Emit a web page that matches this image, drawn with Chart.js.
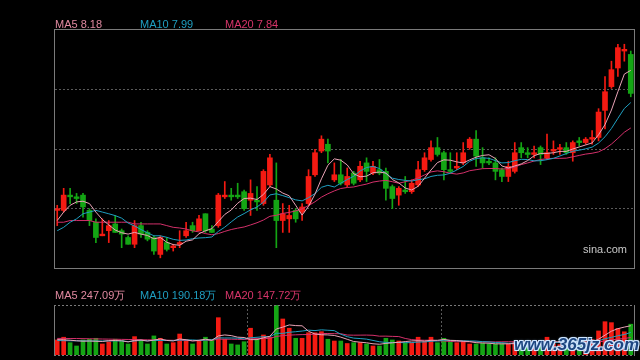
<!DOCTYPE html>
<html><head><meta charset="utf-8">
<script src="https://cdn.jsdelivr.net/npm/chart.js@4.4.1/dist/chart.umd.min.js"></script>
<style>
html,body{margin:0;padding:0;background:#000;width:640px;height:360px;overflow:hidden;}
#wrap{position:relative;width:640px;height:360px;background:#000;}
canvas{position:absolute;left:0;}
.lg{position:absolute;font-family:"Liberation Sans",Arial,sans-serif;font-size:11px;line-height:11px;white-space:nowrap;}
#wm{position:absolute;left:514px;top:336px;font-family:"Liberation Sans",Arial,sans-serif;font-style:italic;font-weight:bold;font-size:17px;line-height:17px;color:#1d4680;white-space:nowrap;
text-shadow:-1px -1px 0 #cfe6ff,1px -1px 0 #cfe6ff,-1px 1px 0 #cfe6ff,1px 1px 0 #cfe6ff,0 0 3px #9cc8f0;}
</style></head><body>
<div id="wrap">
<canvas id="main" width="640" height="280" style="top:0"></canvas>
<canvas id="vol" width="640" height="80" style="top:280px"></canvas>
<div class="lg" style="left:55px;top:19px;color:#e089a0">MA5 8.18</div>
<div class="lg" style="left:140px;top:19px;color:#1f9fc1">MA10 7.99</div>
<div class="lg" style="left:225px;top:19px;color:#d7356a">MA20 7.84</div>
<div class="lg" style="left:583px;top:244px;color:#c8c8c8">sina.com</div>
<div class="lg" style="left:55px;top:290px;color:#e089a0">MA5 247.09万</div>
<div class="lg" style="left:140px;top:290px;color:#1f9fc1">MA10 190.18万</div>
<div class="lg" style="left:225px;top:290px;color:#d7356a">MA20 147.72万</div>
<div id="wm">www.365jz.com</div>
</div>
<script>
// ---- data (price in yuan, volume in 万) ----
const opens = [7.35,7.35,7.44,7.43,7.44,7.35,7.28,7.20,7.23,7.27,
7.23,7.19,7.15,7.26,7.22,7.19,7.09,7.16,7.13,7.15,
7.20,7.26,7.23,7.33,7.24,7.26,7.43,7.44,7.44,7.46,
7.41,7.41,7.39,7.50,7.41,7.29,7.30,7.35,7.34,7.39,
7.56,7.70,7.74,7.53,7.56,7.50,7.57,7.53,7.63,7.57,
7.59,7.58,7.49,7.44,7.47,7.46,7.50,7.59,7.65,7.72,
7.69,7.59,7.60,7.63,7.72,7.77,7.66,7.64,7.63,7.59,
7.55,7.58,7.72,7.69,7.68,7.72,7.66,7.70,7.71,7.72,
7.69,7.76,7.75,7.77,7.78,7.94,8.08,8.19,8.29,8.27];
const closes = [7.36,7.44,7.43,7.42,7.37,7.29,7.19,7.21,7.26,7.22,
7.21,7.15,7.26,7.21,7.18,7.11,7.19,7.12,7.14,7.16,
7.23,7.23,7.30,7.23,7.22,7.44,7.44,7.43,7.43,7.36,
7.45,7.40,7.58,7.66,7.29,7.33,7.32,7.30,7.37,7.55,
7.69,7.77,7.70,7.56,7.51,7.55,7.51,7.61,7.58,7.61,
7.57,7.48,7.42,7.48,7.46,7.51,7.59,7.66,7.72,7.68,
7.59,7.58,7.61,7.69,7.77,7.67,7.63,7.63,7.58,7.55,
7.61,7.69,7.69,7.68,7.69,7.68,7.69,7.71,7.72,7.69,
7.75,7.75,7.77,7.78,7.93,8.05,8.18,8.31,8.30,8.04];
const highs = [7.38,7.48,7.48,7.45,7.45,7.36,7.30,7.30,7.29,7.32,
7.24,7.20,7.29,7.28,7.23,7.20,7.20,7.19,7.15,7.23,
7.28,7.28,7.32,7.33,7.26,7.45,7.52,7.48,7.51,7.47,
7.53,7.49,7.59,7.68,7.63,7.39,7.38,7.36,7.39,7.59,
7.71,7.79,7.77,7.63,7.65,7.60,7.58,7.64,7.66,7.64,
7.65,7.60,7.50,7.49,7.55,7.53,7.64,7.69,7.76,7.78,
7.70,7.69,7.69,7.75,7.78,7.82,7.72,7.66,7.66,7.60,
7.64,7.75,7.75,7.72,7.73,7.73,7.80,7.76,7.74,7.75,
7.76,7.78,7.78,7.82,7.95,8.14,8.23,8.33,8.33,8.29];
const lows = [7.26,7.34,7.39,7.39,7.31,7.26,7.16,7.20,7.16,7.22,
7.13,7.15,7.13,7.19,7.17,7.09,7.07,7.11,7.11,7.13,
7.19,7.22,7.23,7.22,7.22,7.25,7.42,7.41,7.42,7.35,
7.32,7.35,7.38,7.49,7.13,7.22,7.22,7.28,7.29,7.38,
7.55,7.69,7.63,7.52,7.50,7.49,7.50,7.52,7.52,7.56,
7.56,7.41,7.36,7.38,7.45,7.45,7.49,7.58,7.64,7.67,
7.53,7.57,7.59,7.62,7.71,7.61,7.60,7.62,7.53,7.52,
7.52,7.57,7.66,7.66,7.66,7.62,7.65,7.68,7.68,7.68,
7.64,7.73,7.74,7.74,7.76,7.83,8.07,8.14,8.23,8.02];
const ma5 = [7.29,7.34,7.38,7.40,7.404,7.39,7.34,7.296,7.264,7.234,
7.218,7.21,7.22,7.21,7.202,7.182,7.19,7.162,7.148,7.144,
7.168,7.176,7.212,7.23,7.242,7.284,7.326,7.352,7.392,7.42,
7.422,7.414,7.444,7.49,7.476,7.452,7.436,7.38,7.322,7.374,
7.446,7.536,7.616,7.654,7.646,7.618,7.566,7.548,7.552,7.572,
7.576,7.57,7.532,7.512,7.482,7.47,7.492,7.54,7.588,7.632,
7.648,7.646,7.636,7.63,7.648,7.664,7.674,7.678,7.656,7.612,
7.60,7.612,7.624,7.644,7.672,7.686,7.686,7.69,7.698,7.698,
7.712,7.724,7.736,7.748,7.796,7.856,7.942,8.05,8.154,8.176];
const ma10 = [7.23,7.25,7.28,7.30,7.33,7.34,7.35,7.34,7.33,7.319,
7.304,7.275,7.258,7.237,7.218,7.20,7.20,7.191,7.179,7.173,
7.175,7.183,7.187,7.189,7.193,7.226,7.251,7.282,7.311,7.331,
7.353,7.37,7.398,7.441,7.448,7.437,7.425,7.412,7.406,7.425,
7.449,7.486,7.498,7.488,7.51,7.532,7.551,7.582,7.603,7.609,
7.597,7.568,7.54,7.532,7.527,7.523,7.531,7.536,7.55,7.557,
7.559,7.569,7.588,7.609,7.64,7.656,7.66,7.657,7.643,7.63,
7.632,7.643,7.651,7.65,7.642,7.643,7.649,7.657,7.671,7.685,
7.699,7.705,7.713,7.723,7.747,7.784,7.833,7.893,7.951,7.986];
const ma20 = [7.28,7.28,7.29,7.29,7.29,7.29,7.28,7.28,7.28,7.28,
7.28,7.28,7.27,7.27,7.27,7.27,7.27,7.26,7.25,7.246,
7.24,7.229,7.223,7.213,7.206,7.213,7.226,7.237,7.245,7.252,
7.264,7.277,7.293,7.315,7.321,7.332,7.338,7.347,7.359,7.378,
7.401,7.428,7.448,7.465,7.479,7.485,7.488,7.497,7.505,7.517,
7.523,7.527,7.519,7.51,7.519,7.528,7.541,7.559,7.577,7.583,
7.578,7.569,7.564,7.571,7.584,7.59,7.596,7.597,7.597,7.594,
7.596,7.606,7.62,7.63,7.641,7.65,7.655,7.657,7.657,7.658,
7.666,7.674,7.682,7.687,7.695,7.714,7.741,7.775,7.811,7.836];
const volumes = [127,150,104,76,127,133,141,93,112,133,
121,93,155,127,93,161,141,93,104,177,
127,93,121,150,127,315,133,93,85,112,
226,133,169,150,420,304,226,141,141,188,
188,197,133,118,118,97,104,104,93,76,
76,141,127,118,104,104,150,112,150,104,
141,112,104,118,93,93,99,93,93,93,
93,112,100,110,95,120,150,95,88,90,
110,105,118,130,203,281,273,225,196,260];
const vma5 = [130,128,125,120,116.8,118,116.2,114,121.2,122.4,
120,110.4,122.8,125.8,117.8,125.8,135.4,123,118.4,135.2,
128.4,118.8,124.4,133.6,123.6,161.2,169.2,163.6,150.6,147.6,
129.8,129.8,145,158,219.6,235.2,253.8,248.2,246.4,200,
176.8,171,169.4,164.8,150.8,132.6,114,108.2,103.2,94.8,
90.6,98,102.6,107.6,113.2,118.8,120.6,117.6,124,124,
131.4,123.8,122.2,115.8,113.6,104,101.4,99.2,94.2,94.2,
94.2,96.8,98.2,101.6,102,107.4,115,114,109.6,108.6,
106.6,97.6,102.2,110.6,133.2,167.4,201,222.4,235.6,247.09];
const vma10 = [122,121,120,120,119,119,118,118,119,119.6,
119,113.3,118.4,123.5,120.1,122.9,122.9,122.9,122.1,126.5,
127.1,127.1,123.7,126,129.4,144.8,144,144,142.1,135.6,
145.5,149.5,154.3,154.3,183.6,182.5,191.8,196.6,202.2,209.8,
206,212.4,208.8,205.6,175.4,154.7,142.5,138.8,134,122.8,
111.6,106,105.4,105.4,104,104.7,109.3,110.1,115.8,118.6,
125.1,122.2,119.9,119.9,118.8,117.7,112.6,110.7,105,103.9,
99.1,99.1,98.7,97.9,98.1,100.8,105.9,106.1,105.6,105.3,
107,106.3,108.1,110.1,120.9,137,149.3,162.3,173.1,190.18];
const vma20 = [140,140,139,139,138,137,136,135,134,133,
132,131,130,129,128,127,126,125,124,123.05,
123.05,120.2,121.05,124.75,124.75,133.85,133.45,133.45,132.1,131.05,
136.3,138.3,139,140.15,156.5,163.65,167.9,170.3,172.15,172.7,
175.75,180.95,181.55,179.95,179.5,168.6,167.15,167.7,168.1,166.3,
158.8,159.2,157.1,155.5,139.7,129.7,125.9,124.45,124.9,120.7,
118.35,114.1,112.65,112.65,111.4,111.2,110.95,110.4,110.4,111.25,
112.1,110.65,109.3,108.9,108.45,109.25,109.25,108.4,105.3,104.6,
103.05,102.7,103.4,104,109.5,118.9,127.6,134.2,139.35,147.72];
const categories = opens.map((_, i) => 'D' + (i + 1));
const priceMin = 7.01, priceMax = 8.42;
const volMax = 422;
const monthBreaks = [29, 59]; // separator after these category indices

// ---- styles ----
const RED = '#f41a12', GREEN = '#14a514';
const C5 = '#e9a3b6', C10 = '#1f9fc1', C20 = '#d3306a';
const FRAME = '#7a7a7a', DOT = '#5a5a5a';

const up = opens.map((o, i) => closes[i] >= o);
const colors = up.map(u => u ? RED : GREEN);
const bodies = opens.map((o, i) => [o, closes[i]]);
const wicks = lows.map((l, i) => [l, highs[i]]);

function hLine(ctx, x1, x2, y, dash, color) {
  ctx.save(); ctx.strokeStyle = color; ctx.lineWidth = 1; ctx.setLineDash(dash || []);
  ctx.beginPath(); ctx.moveTo(x1, Math.round(y) + 0.5); ctx.lineTo(x2, Math.round(y) + 0.5); ctx.stroke(); ctx.restore();
}
function vLine(ctx, x, y1, y2, dash, color) {
  ctx.save(); ctx.strokeStyle = color; ctx.lineWidth = 1; ctx.setLineDash(dash || []);
  ctx.beginPath(); ctx.moveTo(Math.round(x) + 0.5, y1); ctx.lineTo(Math.round(x) + 0.5, y2); ctx.stroke(); ctx.restore();
}

const mainFrame = {
  id: 'mainFrame',
  beforeDatasetsDraw(chart) {
    const { ctx, chartArea: a, scales: { y } } = chart;
    for (let k = 1; k < 4; k++) {
      const v = priceMax - k * (priceMax - priceMin) / 4;
      hLine(ctx, a.left + 1, a.right, y.getPixelForValue(v), [2, 2], DOT);
    }
  },
  afterDraw(chart) {
    const { ctx, chartArea: a } = chart;
    ctx.save(); ctx.strokeStyle = FRAME; ctx.lineWidth = 1;
    ctx.strokeRect(Math.round(a.left) + 0.5, Math.round(a.top) + 0.5, Math.round(a.right - a.left), Math.round(a.bottom - a.top));
    ctx.restore();
  }
};
const volFrame = {
  id: 'volFrame',
  beforeDatasetsDraw(chart) {
    const { ctx, chartArea: a, scales: { x } } = chart;
    monthBreaks.forEach(i => {
      const px = (x.getPixelForValue(i) + x.getPixelForValue(i + 1)) / 2;
      vLine(ctx, px, a.top, a.bottom, [2, 2], DOT);
    });
  },
  afterDraw(chart) {
    const { ctx, chartArea: a } = chart;
    hLine(ctx, a.left, a.right, a.top, [2, 2], FRAME);
    hLine(ctx, a.left, a.right, a.bottom, [2, 2], FRAME);
    vLine(ctx, a.left, a.top, a.bottom + 1, [], FRAME);
    vLine(ctx, a.right, a.top, a.bottom + 1, [], FRAME);
  }
};

const lineDs = (data, color) => ({ type: 'line', data, borderColor: color, borderWidth: 1, pointRadius: 0, tension: 0, fill: false, order: 0 });

new Chart(document.getElementById('main'), {
  type: 'bar',
  data: {
    labels: categories,
    datasets: [
      lineDs(ma5, C5), lineDs(ma10, C10), lineDs(ma20, C20),
      { type: 'bar', data: wicks, backgroundColor: colors, barThickness: 1, grouped: false, order: 2 },
      { type: 'bar', data: bodies, backgroundColor: colors, barThickness: 5, minBarLength: 1, grouped: false, order: 1 }
    ]
  },
  options: {
    responsive: false, animation: false, devicePixelRatio: 1, events: [],
    layout: { padding: { left: 54, right: 6, top: 29, bottom: 12 } },
    plugins: { legend: { display: false }, tooltip: { enabled: false } },
    scales: { x: { display: false, offset: true }, y: { display: false, min: priceMin, max: priceMax } }
  },
  plugins: [mainFrame]
});

new Chart(document.getElementById('vol'), {
  type: 'bar',
  data: {
    labels: categories,
    datasets: [
      lineDs(vma5, C5), lineDs(vma10, C10), lineDs(vma20, C20),
      { type: 'bar', data: volumes, backgroundColor: colors, barThickness: 4, grouped: false, order: 1 }
    ]
  },
  options: {
    responsive: false, animation: false, devicePixelRatio: 1, events: [],
    layout: { padding: { left: 54, right: 6, top: 25, bottom: 5 } },
    plugins: { legend: { display: false }, tooltip: { enabled: false } },
    scales: { x: { display: false, offset: true }, y: { display: false, min: 0, max: volMax } }
  },
  plugins: [volFrame]
});
</script>
</body></html>
